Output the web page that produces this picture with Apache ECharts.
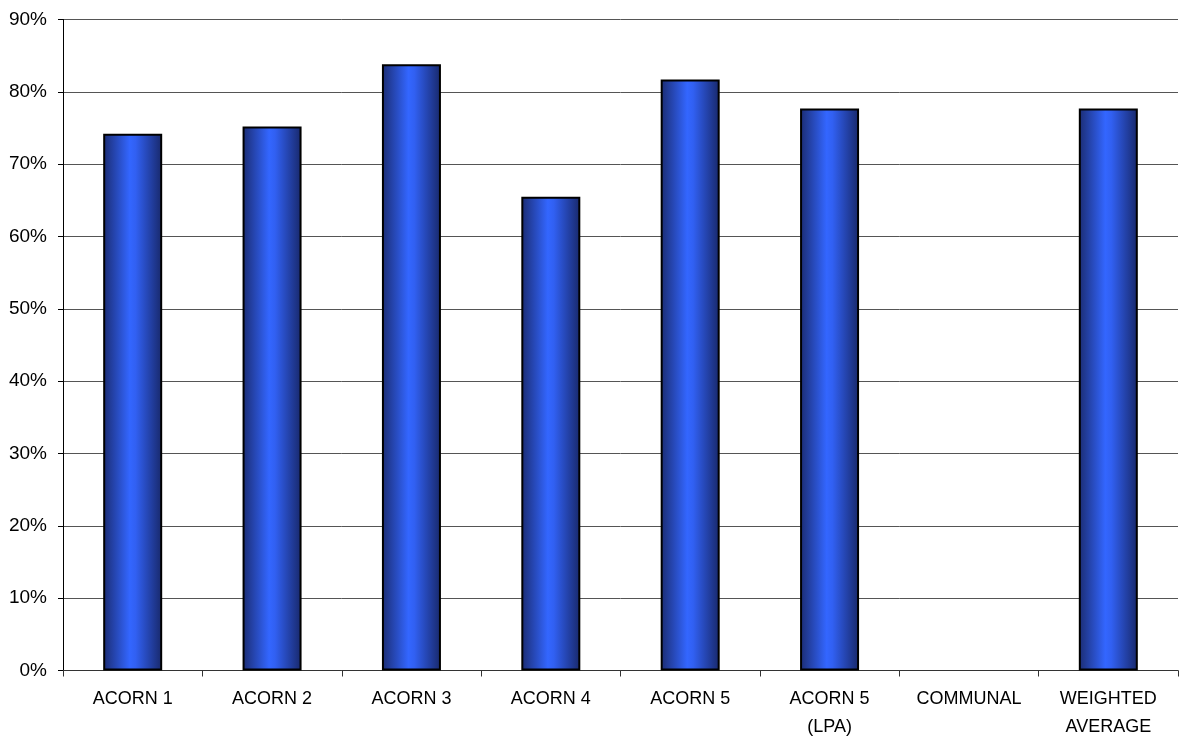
<!DOCTYPE html>
<html>
<head>
<meta charset="utf-8">
<script src="https://cdn.jsdelivr.net/npm/echarts@6/dist/echarts.min.js"></script>
<style>
  html, body { margin: 0; padding: 0; background: #fff; }
  #chart { width: 1179px; height: 742px; }
</style>
</head>
<body>
<div id="chart"></div>
<script>
// Share of households by ACORN group (percent)
const categories = ['ACORN 1', 'ACORN 2', 'ACORN 3', 'ACORN 4', 'ACORN 5', 'ACORN 5\n(LPA)', 'COMMUNAL', 'WEIGHTED\nAVERAGE'];
const values = [74.2, 75.2, 83.8, 65.5, 81.7, 77.7, null, 77.7];
const yTicks = [0, 10, 20, 30, 40, 50, 60, 70, 80, 90];

const chart = echarts.init(document.getElementById('chart'), null, { renderer: 'canvas' });

const barFill = new echarts.graphic.LinearGradient(0, 0, 1, 0, [
  { offset: 0, color: '#1b2c72' },
  { offset: 0.45, color: '#3366ff' },
  { offset: 0.55, color: '#3160f2' },
  { offset: 1, color: '#18286a' }
]);

chart.setOption({
  animation: false,
  backgroundColor: '#ffffff',
  grid: { left: 63, right: 1, top: 19.5, bottom: 71.5, containLabel: false },
  xAxis: {
    type: 'category',
    data: categories,
    axisLine: { show: true, lineStyle: { color: '#333333', width: 1 } },
    axisTick: { show: true, length: 6, alignWithLabel: false, lineStyle: { color: '#333333' } },
    axisLabel: {
      interval: 0,
      fontFamily: 'Liberation Sans, Arial, sans-serif',
      fontSize: 18,
      lineHeight: 28,
      color: '#000000',
      margin: 15
    },
    splitLine: { show: false }
  },
  yAxis: {
    type: 'value',
    min: yTicks[0],
    max: yTicks[yTicks.length - 1],
    interval: 10,
    axisLine: { show: true, lineStyle: { color: '#000000', width: 1 } },
    axisTick: { show: true, length: 5, lineStyle: { color: '#000000' } },
    axisLabel: {
      formatter: '{value}%',
      fontFamily: 'Liberation Sans, Arial, sans-serif',
      fontSize: 19,
      color: '#000000',
      margin: 16
    },
    splitLine: { show: true, lineStyle: { color: '#555555', width: 1 } }
  },
  series: [{
    type: 'bar',
    data: values,
    barWidth: 59,
    itemStyle: {
      color: barFill,
      borderColor: '#000000',
      borderWidth: 2
    }
  }]
});
</script>
</body>
</html>
